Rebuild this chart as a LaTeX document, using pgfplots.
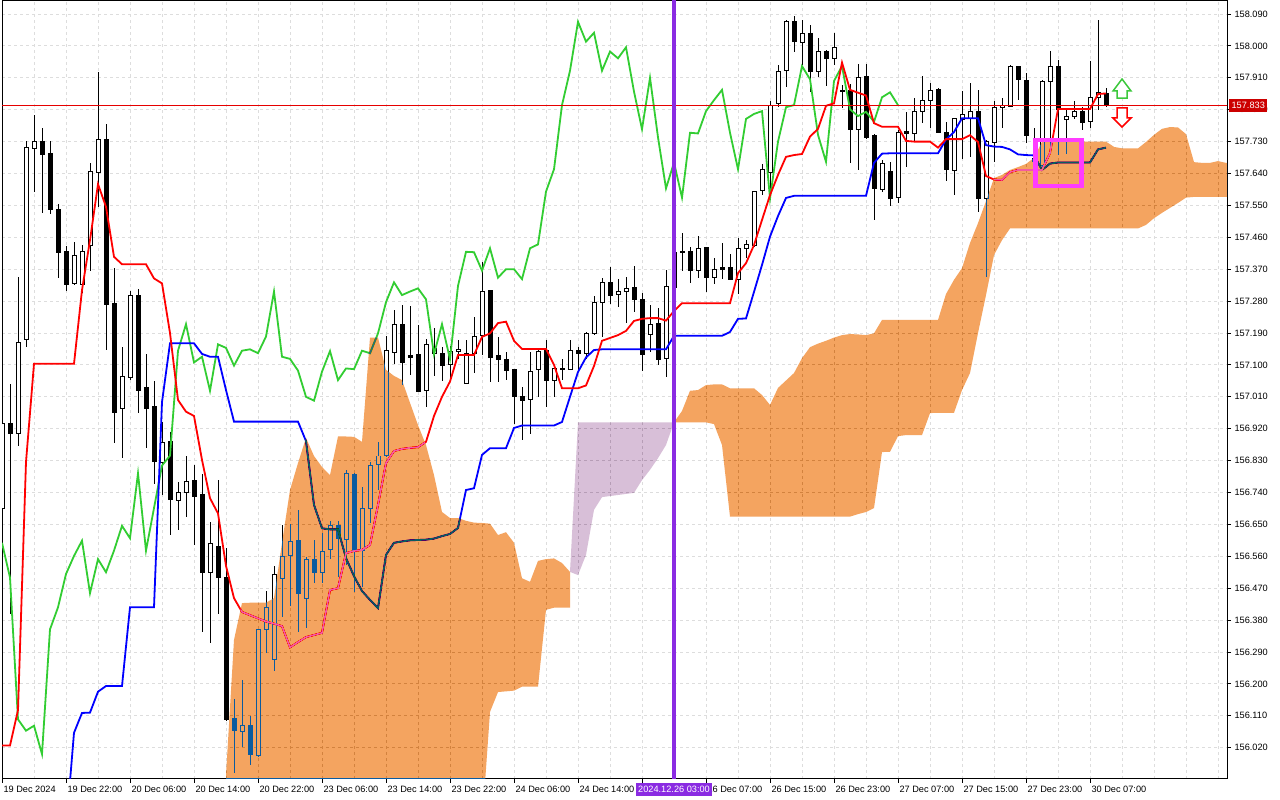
\documentclass[border=0pt]{standalone}
\usepackage{fontspec}
\setmainfont{Liberation Sans}
\usepackage{pgfplots}
\usepackage{pgfplotstable}
\pgfplotsset{compat=1.18}
\definecolor{gridc}{RGB}{221,221,221}
\definecolor{chik}{RGB}{50,205,50}
\definecolor{kumoX}{RGB}{11,91,159}
\definecolor{thisX}{RGB}{39,64,39}
\definecolor{bviolet}{RGB}{138,43,226}
\definecolor{pricered}{RGB}{204,0,0}
\definecolor{pline}{RGB}{230,0,0}
\definecolor{mag}{RGB}{255,60,255}
\definecolor{arrg}{RGB}{60,200,60}

\pgfplotstableread{
k o h l c
0 156.694 156.950 156.685 156.936
1 156.937 157.049 156.400 156.907
2 156.907 157.349 156.874 157.163
3 157.172 157.732 157.151 157.714
4 157.711 157.805 157.589 157.730
5 157.732 157.768 157.529 157.694
6 157.697 157.732 157.526 157.539
7 157.539 157.554 157.347 157.419
8 157.421 157.436 157.307 157.327
9 157.330 157.446 157.325 157.410
10 157.327 157.438 157.304 157.421
11 157.436 157.671 157.366 157.647
12 157.645 157.926 157.546 157.737
13 157.737 157.780 157.142 157.272
14 157.274 157.375 156.880 156.966
15 156.978 157.150 156.837 157.067
16 157.065 157.308 157.057 157.297
17 157.297 157.316 156.966 157.029
18 157.037 157.131 156.865 156.978
19 156.984 157.055 156.766 156.827
20 156.827 156.940 156.733 156.883
21 156.883 156.912 156.620 156.719
22 156.719 156.771 156.636 156.740
23 156.740 156.843 156.672 156.771
24 156.775 156.818 156.592 156.731
25 156.735 156.794 156.347 156.514
26 156.514 156.658 156.316 156.598
27 156.589 156.775 156.399 156.500
28 156.501 156.583 156.096 156.100
29 156.103 156.157 155.950 156.068
30 156.065 156.211 156.023 156.082
31 156.084 156.108 155.971 156.002
32 155.999 156.356 155.995 156.354
33 156.354 156.465 156.288 156.416
34 156.270 156.533 156.237 156.510
35 156.498 156.648 156.390 156.561
36 156.564 156.651 156.420 156.604
37 156.606 156.691 156.347 156.456
38 156.442 156.559 156.359 156.552
39 156.552 156.608 156.486 156.515
40 156.515 156.625 156.484 156.576
41 156.578 156.662 156.554 156.646
42 156.648 156.660 156.503 156.611
43 156.608 156.804 156.536 156.794
44 156.791 156.794 156.460 156.576
45 156.578 156.756 156.474 156.696
46 156.696 156.827 156.655 156.816
47 156.820 156.883 156.749 156.844
48 156.844 157.182 156.841 157.140
49 157.137 157.255 157.103 157.215
50 157.213 157.269 157.043 157.107
51 157.128 157.266 157.072 157.123
52 157.130 157.213 157.026 157.027
53 157.027 157.172 156.980 157.158
54 157.134 157.206 157.069 157.148
55 157.133 157.151 157.055 157.098
56 157.102 157.153 157.055 157.140
57 157.139 157.172 157.117 157.144
58 157.048 157.172 157.046 157.133
59 157.133 157.234 157.076 157.180
60 157.184 157.391 157.128 157.307
61 157.311 157.314 157.053 157.123
62 157.128 157.178 157.053 157.117
63 157.117 157.139 157.060 157.084
64 157.086 157.088 156.935 157.010
65 157.012 157.038 156.888 156.999
66 157.003 157.137 156.905 157.081
67 157.088 157.142 157.010 157.139
68 157.142 157.173 156.984 157.057
69 157.057 157.100 157.009 157.090
70 157.092 157.116 157.057 157.088
71 157.088 157.170 157.086 157.140
72 157.142 157.151 157.086 157.133
73 157.133 157.193 157.119 157.189
74 157.189 157.294 157.184 157.277
75 157.277 157.346 157.180 157.333
76 157.333 157.377 157.274 157.297
77 157.300 157.344 157.264 157.307
78 157.308 157.349 157.219 157.316
79 157.318 157.379 157.250 157.285
80 157.285 157.304 157.084 157.130
81 157.189 157.269 157.137 157.215
82 157.215 157.260 157.100 157.116
83 157.119 157.370 157.067 157.323
84 157.320 157.438 157.283 157.419
85 157.422 157.473 157.366 157.418
86 157.422 157.434 157.332 157.366
87 157.368 157.464 157.347 157.429
88 157.431 157.433 157.307 157.346
89 157.346 157.404 157.328 157.370
90 157.374 157.446 157.342 157.370
91 157.374 157.415 157.340 157.342
92 157.342 157.460 157.302 157.429
93 157.429 157.452 157.401 157.440
94 157.438 157.591 157.434 157.589
95 157.594 157.667 157.582 157.652
96 157.644 157.845 157.565 157.833
97 157.838 157.946 157.829 157.930
98 157.930 158.073 157.885 158.068
99 158.068 158.084 157.984 158.012
100 158.012 158.073 157.946 158.037
101 158.036 158.059 157.871 157.930
102 157.930 158.024 157.913 157.984
103 157.986 157.990 157.887 157.965
104 157.965 158.036 157.946 157.996
105 157.874 157.890 157.824 157.871
106 157.873 157.893 157.671 157.765
107 157.765 157.951 157.652 157.910
108 157.915 157.949 157.739 157.742
109 157.749 157.751 157.509 157.598
110 157.596 157.678 157.588 157.671
111 157.647 157.673 157.548 157.572
112 157.572 157.763 157.558 157.755
113 157.760 157.816 157.659 157.753
114 157.753 157.855 157.733 157.816
115 157.816 157.916 157.783 157.847
116 157.847 157.895 157.768 157.876
117 157.878 157.881 157.754 157.755
118 157.756 157.786 157.620 157.652
119 157.648 157.797 157.579 157.794
120 157.794 157.874 157.683 157.808
121 157.796 157.895 157.687 157.816
122 157.816 157.878 157.532 157.570
123 157.570 157.735 157.349 157.730
124 157.730 157.845 157.673 157.827
125 157.827 157.852 157.768 157.833
126 157.831 157.946 157.829 157.943
127 157.943 157.946 157.849 157.906
128 157.904 157.924 157.727 157.749
129 157.684 157.768 157.669 157.673
130 157.664 157.904 157.656 157.901
131 157.901 157.988 157.697 157.943
132 157.943 157.960 157.692 157.821
133 157.793 157.821 157.697 157.802
134 157.802 157.847 157.796 157.814
135 157.816 157.829 157.765 157.786
136 157.786 157.958 157.768 157.855
137 157.855 158.073 157.819 157.869
138 157.868 157.883 157.829 157.833
}\candles

\pgfplotstableread{
k v
0 156.026
1 156.026
2 156.126
3 156.826
4 157.103
5 157.103
6 157.103
7 157.103
8 157.103
9 157.103
10 157.311
11 157.452
12 157.610
13 157.546
14 157.405
15 157.384
16 157.384
17 157.384
18 157.384
19 157.344
20 157.330
21 157.190
22 157.001
23 156.968
24 156.956
25 156.832
26 156.724
27 156.681
28 156.533
29 156.442
30 156.403
31 156.394
32 156.385
33 156.376
34 156.370
35 156.363
36 156.303
37 156.318
38 156.332
39 156.338
40 156.344
41 156.465
42 156.470
43 156.569
44 156.575
45 156.578
46 156.592
47 156.705
48 156.823
49 156.857
50 156.863
51 156.866
52 156.868
53 156.883
54 156.956
55 157.010
56 157.053
57 157.128
58 157.128
59 157.128
60 157.179
61 157.189
62 157.218
63 157.222
64 157.168
65 157.145
66 157.145
67 157.145
68 157.145
69 157.100
70 157.034
71 157.034
72 157.034
73 157.042
74 157.097
75 157.168
76 157.176
77 157.184
78 157.196
79 157.224
80 157.230
81 157.232
82 157.232
83 157.225
84 157.252
85 157.274
86 157.274
87 157.274
88 157.274
89 157.274
90 157.274
91 157.274
92 157.359
93 157.387
94 157.438
95 157.509
96 157.579
97 157.636
98 157.687
99 157.692
100 157.695
101 157.744
102 157.766
103 157.831
104 157.838
105 157.953
106 157.876
107 157.868
108 157.860
109 157.782
110 157.772
111 157.772
112 157.772
113 157.732
114 157.730
115 157.730
116 157.730
117 157.713
118 157.737
119 157.737
120 157.737
121 157.748
122 157.729
123 157.633
124 157.623
125 157.622
126 157.644
127 157.650
128 157.650
129 157.650
130 157.650
131 157.698
132 157.822
133 157.822
134 157.822
135 157.822
136 157.822
137 157.864
138 157.866
}\tenkan

\pgfplotstableread{
k v
8 155.788
9 156.062
10 156.118
11 156.119
12 156.178
13 156.194
14 156.194
15 156.194
16 156.416
17 156.416
18 156.416
19 156.416
20 156.995
21 157.161
22 157.161
23 157.161
24 157.161
25 157.131
26 157.123
27 157.123
28 157.029
29 156.940
30 156.940
31 156.940
32 156.940
33 156.940
34 156.940
35 156.940
36 156.940
37 156.940
38 156.885
39 156.705
40 156.639
41 156.636
42 156.636
43 156.555
44 156.504
45 156.462
46 156.437
47 156.414
48 156.564
49 156.598
50 156.602
51 156.605
52 156.606
53 156.607
54 156.610
55 156.617
56 156.623
57 156.640
58 156.747
59 156.752
60 156.846
61 156.865
62 156.865
63 156.865
64 156.922
65 156.929
66 156.929
67 156.929
68 156.929
69 156.929
70 156.939
71 157.010
72 157.080
73 157.121
74 157.142
75 157.144
76 157.144
77 157.144
78 157.144
79 157.144
80 157.144
81 157.144
82 157.144
83 157.144
84 157.182
85 157.182
86 157.182
87 157.182
88 157.182
89 157.182
90 157.182
91 157.193
92 157.230
93 157.231
94 157.306
95 157.382
96 157.462
97 157.520
98 157.571
99 157.577
100 157.577
101 157.577
102 157.577
103 157.577
104 157.577
105 157.577
106 157.577
107 157.577
108 157.577
109 157.670
110 157.696
111 157.697
112 157.697
113 157.697
114 157.697
115 157.697
116 157.697
117 157.697
118 157.736
119 157.757
120 157.796
121 157.796
122 157.796
123 157.720
124 157.716
125 157.715
126 157.708
127 157.694
128 157.692
129 157.691
130 157.650
131 157.668
132 157.671
133 157.671
134 157.671
135 157.671
136 157.671
137 157.708
138 157.713
}\kijun

\begin{document}
\begin{tikzpicture}
\path[use as bounding box, fill=white] (-2pt,-21pt) rectangle (1278pt,779pt);
\begin{axis}[
  at={(0pt,0pt)}, anchor=south west,
  scale only axis, width=1225pt, height=778pt,
  xmin=0, xmax=153.125, ymin=155.9317, ymax=158.1267,
  clip mode=individual,
  axis background/.style={fill=white},
  axis line style={black, line width=1pt},
  tick align=outside,
  major tick length=4pt,
  minor tick length=0pt,
  every tick/.style={black, line width=1pt},
  xtick pos=left, ytick pos=right,
  yticklabel pos=right,
  xtick={0,8,16,24,32,40,48,56,64,72,80,88,96,104,112,120,128,136},
  xticklabels={19 Dec 2024,19 Dec 22:00,20 Dec 06:00,20 Dec 14:00,20 Dec 22:00,23 Dec 06:00,23 Dec 14:00,23 Dec 22:00,24 Dec 06:00,24 Dec 14:00,{},26 Dec 07:00,26 Dec 15:00,26 Dec 23:00,27 Dec 07:00,27 Dec 15:00,27 Dec 23:00,30 Dec 07:00},
  minor xtick={4,12,20,28,36,44,52,60,68,76,84,92,100,108,116,124,132,140,144,148,152},
  ytick={156.02,156.11,156.2,156.29,156.38,156.47,156.56,156.65,156.74,156.83,156.92,157.01,157.1,157.19,157.28,157.37,157.46,157.55,157.64,157.73,157.82,157.91,158,158.09},
  xmajorgrids, xminorgrids, ymajorgrids,
  grid style={gridc, dash pattern=on 3pt off 3pt, line width=1pt},
  minor grid style={gridc, dash pattern=on 3pt off 3pt, line width=1pt},
  tick label style={font=\fontsize{9.2}{11}\selectfont},
  xticklabel style={anchor=north west, xshift=-2pt},
  yticklabel style={anchor=west},
  /pgf/number format/assume math mode=true,
  y tick label style={/pgf/number format/fixed, /pgf/number format/fixed zerofill, /pgf/number format/precision=3, /pgf/number format/1000 sep={}},
]
% wicks
\addplot[draw=none, mark=none, forget plot,
  error bars/.cd, y dir=both, y explicit, error mark=none,
  error bar style={draw=black, line width=1pt}]
  table[x=k, y expr={(\thisrow{h}+\thisrow{l})/2}, y error expr={(\thisrow{h}-\thisrow{l})/2}] {\candles};
% bodies outline
\addplot[draw=none, mark=none, forget plot,
  error bars/.cd, y dir=both, y explicit, error mark=none,
  error bar style={draw=black, line width=5pt}]
  table[x=k, y expr={(\thisrow{o}+\thisrow{c})/2}, y error expr={abs(\thisrow{o}-\thisrow{c})/2+0.0014}] {\candles};
% bull interiors
\addplot[draw=none, mark=none, forget plot,
  error bars/.cd, y dir=both, y explicit, error mark=none,
  error bar style={draw=white, line width=3pt}]
  table[x=k, y expr={(\thisrow{o}+\thisrow{c})/2}, y error expr={max(0,(\thisrow{c}-\thisrow{o})/2-0.0014)}] {\candles};

% Ichimoku lines
\addplot[chik, line width=1.8pt, skip coords between index={0}{26}] table[x expr=\thisrow{k}-26, y=c] {\candles};
\addplot[blue, line width=1.8pt] table[x=k, y=v] {\kijun};
\addplot[red, line width=1.8pt] table[x=k, y=v] {\tenkan};

% Kumo (left, bullish)
\addplot[draw=none, fill=kumoX, blend mode=difference] coordinates {
(28,155.943) (29,156.324) (30,156.428) (31,156.429) (32,156.429) (33,156.429) (34,156.442) (35,156.598) (36,156.747) (37,156.823) (38,156.894) (39,156.843) (40,156.812) (41,156.789) (42,156.898) (43,156.898) (44,156.897) (45,156.883) (46,157.177) (47,157.177) (48,157.086) (49,157.069) (50,157.057) (51,156.993) (52,156.930) (53,156.874) (54,156.789) (55,156.685) (56,156.668) (57,156.668) (58,156.660) (59,156.655) (60,156.654) (61,156.652) (62,156.620) (63,156.628) (64,156.598) (65,156.498) (66,156.488) (67,156.547) (68,156.552) (69,156.554) (70,156.541) (71,156.516)
(71,156.415) (70,156.415) (69,156.415) (68,156.409) (67,156.192) (66,156.192) (65,156.192) (64,156.181) (63,156.179) (62,156.177) (61,156.121) (60,155.800) (28,155.800)
} -- cycle;
% Kumo (bearish, thistle)
\addplot[draw=none, fill=thisX, blend mode=difference] coordinates {
(71,156.516) (72,156.938) (84,156.938)
(83,156.874) (82,156.837) (81,156.804) (80,156.775) (79,156.739) (78,156.736) (77,156.733) (76,156.730) (75,156.727) (74,156.691) (73,156.564) (72,156.507)
} -- cycle;
% Kumo (right, bullish)
\addplot[draw=none, fill=kumoX, blend mode=difference] coordinates {
(84,156.938) (85,156.970) (86,157.027) (87,157.029) (88,157.043) (89,157.045) (90,157.045) (91,157.034) (92,157.034) (93,157.034) (94,157.034) (95,157.015) (96,156.987) (97,157.035) (98,157.056) (99,157.077) (100,157.119) (101,157.150) (102,157.160) (103,157.168) (104,157.177) (105,157.184) (106,157.187) (107,157.186) (108,157.184) (109,157.189) (110,157.227) (117,157.227) (118,157.300) (119,157.340) (120,157.373) (121,157.444) (122,157.500) (123,157.562) (124,157.627) (125,157.636) (126,157.650) (127,157.658) (128,157.667) (129,157.684) (130,157.729) (138,157.730) (139,157.715) (140,157.711) (142,157.711) (143,157.729) (144,157.749) (145,157.766) (146,157.771) (147,157.770) (148,157.751) (149,157.672) (150,157.670) (151,157.670) (152,157.675) (153,157.670) (154,157.670)
(154,157.574) (149,157.574) (148,157.572) (147,157.557) (146,157.543) (145,157.529) (144,157.514) (143,157.495) (142,157.485) (126,157.485) (125,157.452) (124,157.410) (123,157.297) (122,157.190) (121,157.077) (120,157.029) (119,156.965) (117,156.965) (116,156.964) (115,156.902) (113,156.902) (112,156.899) (111,156.855) (110,156.854) (109,156.696) (108,156.685) (107,156.679) (106,156.672) (91,156.672) (90,156.874) (89,156.933) (88,156.938)
} -- cycle;

% price line
\addplot[color=pline, draw=pline, line width=1pt, forget plot] coordinates {(0,157.833) (154,157.833)};
% vertical period separator
\addplot[bviolet, line width=4pt, forget plot] coordinates {(84,155.9) (84,158.2)};
% highlight rectangle
\addplot[mag, line width=4.5pt, line join=miter, forget plot] coordinates {(129.19,157.7345) (134.94,157.7345) (134.94,157.6047) (129.19,157.6047)} -- cycle;
% arrows
\addplot[arrg, fill=white, line width=1.5pt, forget plot] coordinates {(139.375,157.853) (139.375,157.8728) (138.875,157.8728) (140,157.9066) (141.125,157.8728) (140.625,157.8728) (140.625,157.853)} -- cycle;
\addplot[red, fill=white, line width=1.5pt, forget plot] coordinates {(139.375,157.8248) (140.625,157.8248) (140.625,157.7966) (141.125,157.7966) (140,157.7712) (138.875,157.7966) (139.375,157.7966)} -- cycle;

\node[fill=pricered, text=white, anchor=west, inner xsep=2.4pt, inner ysep=0pt, minimum height=13pt, font=\fontsize{9.2}{11}\selectfont, xshift=2pt] at (axis cs:153.125,157.833) {157.833};
\node[fill=bviolet, text=white, anchor=north, inner xsep=2pt, inner ysep=0pt, minimum height=13pt, font=\fontsize{9.2}{11}\selectfont, yshift=-4pt] at (axis cs:84,155.9317) {2024.12.26 03:00};
\end{axis}
\end{tikzpicture}
\end{document}
